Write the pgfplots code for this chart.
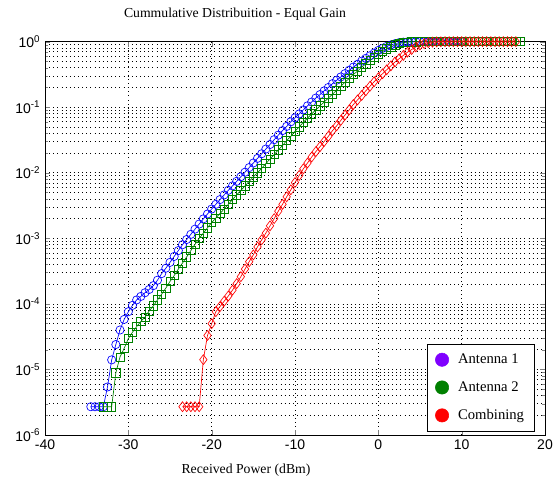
\documentclass[border=0pt]{standalone}
\usepackage{pgfplots}
\pgfplotsset{compat=1.18}
\usepackage{fontspec}
\setmainfont{Liberation Serif}
\newfontfamily\arial{Liberation Sans}
\definecolor{mblue}{RGB}{0,0,255}
\definecolor{mgreen}{RGB}{0,128,0}
\definecolor{mred}{RGB}{255,0,0}
\definecolor{mpurple}{RGB}{128,0,255}

\begin{document}
\begin{tikzpicture}
\begin{axis}[
  at={(0,0)}, anchor=south west,
  scale only axis, width=375pt, height=295pt,
  xmin=-40, xmax=20,
  ymode=log, ymin=1e-6, ymax=1,
  xtick={-40,-30,-20,-10,0,10,20},
  xticklabels={-40,-30,-20,-10,0,10,20},
  ytick={1e-6,1e-5,1e-4,1e-3,1e-2,1e-1,1},
  yticklabels={10\textsuperscript{-6},10\textsuperscript{-5},10\textsuperscript{-4},10\textsuperscript{-3},10\textsuperscript{-2},10\textsuperscript{-1},10\textsuperscript{0}},
  tick label style={font=\arial\fontsize{10.5}{12}\selectfont},
  grid=both,
  major grid style={black, line width=0.5pt, dash pattern=on 0.5pt off 2.6pt},
  minor grid style={black, line width=0.5pt, dash pattern=on 0.5pt off 2.6pt},
  tick align=inside, major tick length=4pt, minor tick length=2.5pt,
  axis line style={black, line width=0.6pt},
  clip=false,
  legend style={at={(rel axis cs:0.98,0.01)}, anchor=south east, draw=black,
    font=\fontsize{11}{13}\selectfont, row sep=8pt, inner xsep=6pt, inner ysep=5pt,
    cells={anchor=west},
    /tikz/every odd column/.append style={column sep=5pt}},
]
\addlegendimage{only marks, mark=*, mark size=5pt, color=mpurple}
\addlegendentry{Antenna 1}
\addlegendimage{only marks, mark=*, mark size=5pt, color=mgreen}
\addlegendentry{Antenna 2}
\addlegendimage{only marks, mark=*, mark size=5pt, color=mred}
\addlegendentry{Combining}

% Antenna 1
\addplot[forget plot, color=mblue, line width=0.5pt, mark=o, mark size=3.1pt] coordinates {
(-34.5,2.7e-6) (-34.0,2.7e-6) (-33.5,2.7e-6) (-33.0,2.7e-6) (-32.5,5.4e-6)
(-32.0,1.4e-5) (-31.5,2.4e-5) (-31.0,4.0e-5) (-30.5,5.8e-5) (-30.0,7.6e-5)
(-29.5,9.5e-5) (-29.0,1.15e-4) (-28.5,1.3e-4) (-28.0,1.48e-4) (-27.5,1.66e-4)
(-27.0,1.9e-4) (-26.5,2.3e-4) (-26.0,2.9e-4) (-25.5,3.5e-4) (-25.0,4.3e-4)
(-24.5,5.3e-4) (-24.0,6.5e-4) (-23.5,8.0e-4) (-23.0,9.6e-4) (-22.5,1.15e-3)
(-22.0,1.38e-3) (-21.5,1.65e-3) (-21.0,1.98e-3) (-20.5,2.35e-3) (-20.0,2.8e-3)
(-19.5,3.3e-3) (-19.0,3.9e-3) (-18.5,4.6e-3) (-18.0,5.4e-3) (-17.5,6.3e-3)
(-17.0,7.4e-3) (-16.5,8.7e-3) (-16.0,1.02e-2) (-15.5,1.2e-2) (-15.0,1.41e-2)
(-14.5,1.66e-2) (-14.0,1.95e-2) (-13.5,2.3e-2) (-13.0,2.7e-2) (-12.5,3.2e-2)
(-12.0,3.75e-2) (-11.5,4.4e-2) (-11.0,5.1e-2) (-10.5,6.0e-2) (-10.0,6.9e-2)
(-9.5,7.9e-2) (-9.0,9.1e-2) (-8.5,0.105) (-8.0,0.12) (-7.5,0.138)
(-7.0,0.156) (-6.5,0.178) (-6.0,0.2) (-5.5,0.229) (-5.0,0.258)
(-4.5,0.29) (-4.0,0.326) (-3.5,0.367) (-3.0,0.41) (-2.5,0.452)
(-2.0,0.505) (-1.5,0.556) (-1.0,0.61) (-0.5,0.67) (0.0,0.735)
(0.5,0.79) (1.0,0.848) (1.5,0.891) (2.0,0.933) (2.5,0.966)
(3.0,0.984) (3.5,0.993) (4.0,0.997) (4.5,1) (5.0,1)
(5.5,1) (6.0,1) (6.5,1) (7.0,1) (7.5,1) (8.0,1) (8.5,1) (9.0,1) (9.5,1) (10.0,1)
};

% Antenna 2
\addplot[forget plot, color=mgreen, line width=0.5pt, mark=square, mark size=3.1pt] coordinates {
(-33.0,2.7e-6) (-32.5,2.7e-6) (-32.0,2.7e-6) (-31.5,8.9e-6) (-31.0,1.55e-5)
(-30.5,2.1e-5) (-30.0,2.95e-5) (-29.5,3.7e-5) (-29.0,4.5e-5) (-28.5,5.4e-5)
(-28.0,6.3e-5) (-27.5,7.8e-5) (-27.0,9.3e-5) (-26.5,1.15e-4) (-26.0,1.41e-4)
(-25.5,1.74e-4) (-25.0,2.2e-4) (-24.5,2.7e-4) (-24.0,3.4e-4) (-23.5,4.2e-4)
(-23.0,5.2e-4) (-22.5,6.5e-4) (-22.0,8.1e-4) (-21.5,1.0e-3) (-21.0,1.2e-3)
(-20.5,1.45e-3) (-20.0,1.74e-3) (-19.5,2.04e-3) (-19.0,2.4e-3) (-18.5,2.8e-3)
(-18.0,3.3e-3) (-17.5,3.9e-3) (-17.0,4.6e-3) (-16.5,5.4e-3) (-16.0,6.3e-3)
(-15.5,7.4e-3) (-15.0,8.7e-3) (-14.5,1.0e-2) (-14.0,1.17e-2) (-13.5,1.38e-2)
(-13.0,1.62e-2) (-12.5,1.9e-2) (-12.0,2.24e-2) (-11.5,2.6e-2) (-11.0,3.1e-2)
(-10.5,3.6e-2) (-10.0,4.3e-2) (-9.5,5.0e-2) (-9.0,5.9e-2) (-8.5,6.8e-2)
(-8.0,7.9e-2) (-7.5,9.1e-2) (-7.0,0.105) (-6.5,0.120) (-6.0,0.138)
(-5.5,0.158) (-5.0,0.182) (-4.5,0.209) (-4.0,0.240) (-3.5,0.275)
(-3.0,0.316) (-2.5,0.355) (-2.0,0.407) (-1.5,0.457) (-1.0,0.513)
(-0.5,0.575) (0.0,0.646) (0.5,0.708) (1.0,0.776) (1.5,0.832)
(2.0,0.891) (2.5,0.933) (3.0,0.966) (3.5,0.984) (4.0,0.993)
(4.5,0.997) (5.0,1) (5.5,1) (6.0,1) (6.5,1) (7.0,1) (7.5,1) (8.0,1)
(8.5,1) (9.0,1) (9.5,1) (10.0,1) (10.5,1) (11.0,1) (11.5,1) (12.0,1)
(12.5,1) (13.0,1) (13.5,1) (14.0,1) (14.5,1) (15.0,1) (15.5,1) (16.0,1)
(16.5,1) (17.0,1)
};

% Combining
\addplot[forget plot, color=mred, line width=0.5pt, mark=diamond, mark size=3.7pt] coordinates {
(-23.5,2.7e-6) (-23.0,2.7e-6) (-22.5,2.7e-6) (-22.0,2.7e-6) (-21.5,2.7e-6)
(-21.0,1.41e-5) (-20.5,3.3e-5) (-20.0,5.0e-5) (-19.5,7.6e-5) (-19.0,9.1e-5)
(-18.5,1.1e-4) (-18.0,1.32e-4) (-17.5,1.62e-4) (-17.0,2.04e-4) (-16.5,2.6e-4)
(-16.0,3.4e-4) (-15.5,4.4e-4) (-15.0,5.6e-4) (-14.5,7.4e-4) (-14.0,9.5e-4)
(-13.5,1.2e-3) (-13.0,1.55e-3) (-12.5,2.0e-3) (-12.0,2.6e-3) (-11.5,3.3e-3)
(-11.0,4.3e-3) (-10.5,5.5e-3) (-10.0,7.1e-3) (-9.5,9.1e-3) (-9.0,1.15e-2)
(-8.5,1.41e-2) (-8.0,1.74e-2) (-7.5,2.1e-2) (-7.0,2.5e-2) (-6.5,3.0e-2)
(-6.0,3.6e-2) (-5.5,4.4e-2) (-5.0,5.2e-2) (-4.5,6.3e-2) (-4.0,7.6e-2)
(-3.5,9.1e-2) (-3.0,0.110) (-2.5,0.129) (-2.0,0.151) (-1.5,0.178)
(-1.0,0.209) (-0.5,0.245) (0.0,0.282) (0.5,0.324) (1.0,0.372)
(1.5,0.427) (2.0,0.490) (2.5,0.550) (3.0,0.617) (3.5,0.692)
(4.0,0.759) (4.5,0.832) (5.0,0.891) (5.5,0.933) (6.0,0.966)
(6.5,0.984) (7.0,0.993) (7.5,0.997) (8.0,1) (8.5,1) (9.0,1) (9.5,1)
(10.0,1) (10.5,1) (11.0,1) (11.5,1) (12.0,1) (12.5,1) (13.0,1) (13.5,1)
(14.0,1) (14.5,1) (15.0,1) (15.5,1) (16.0,1) (16.5,1)
};

\node[font=\fontsize{10.3}{12}\selectfont] at (rel axis cs:0.38,1.069) {Cummulative Distribuition - Equal Gain};
\node[font=\fontsize{10.3}{12}\selectfont] at (rel axis cs:0.402,-0.089) {Received Power (dBm)};
\end{axis}
\pgfresetboundingbox
\path (-33.75pt,-39.75pt) rectangle (382.5pt,326.25pt);
\end{tikzpicture}
\end{document}
